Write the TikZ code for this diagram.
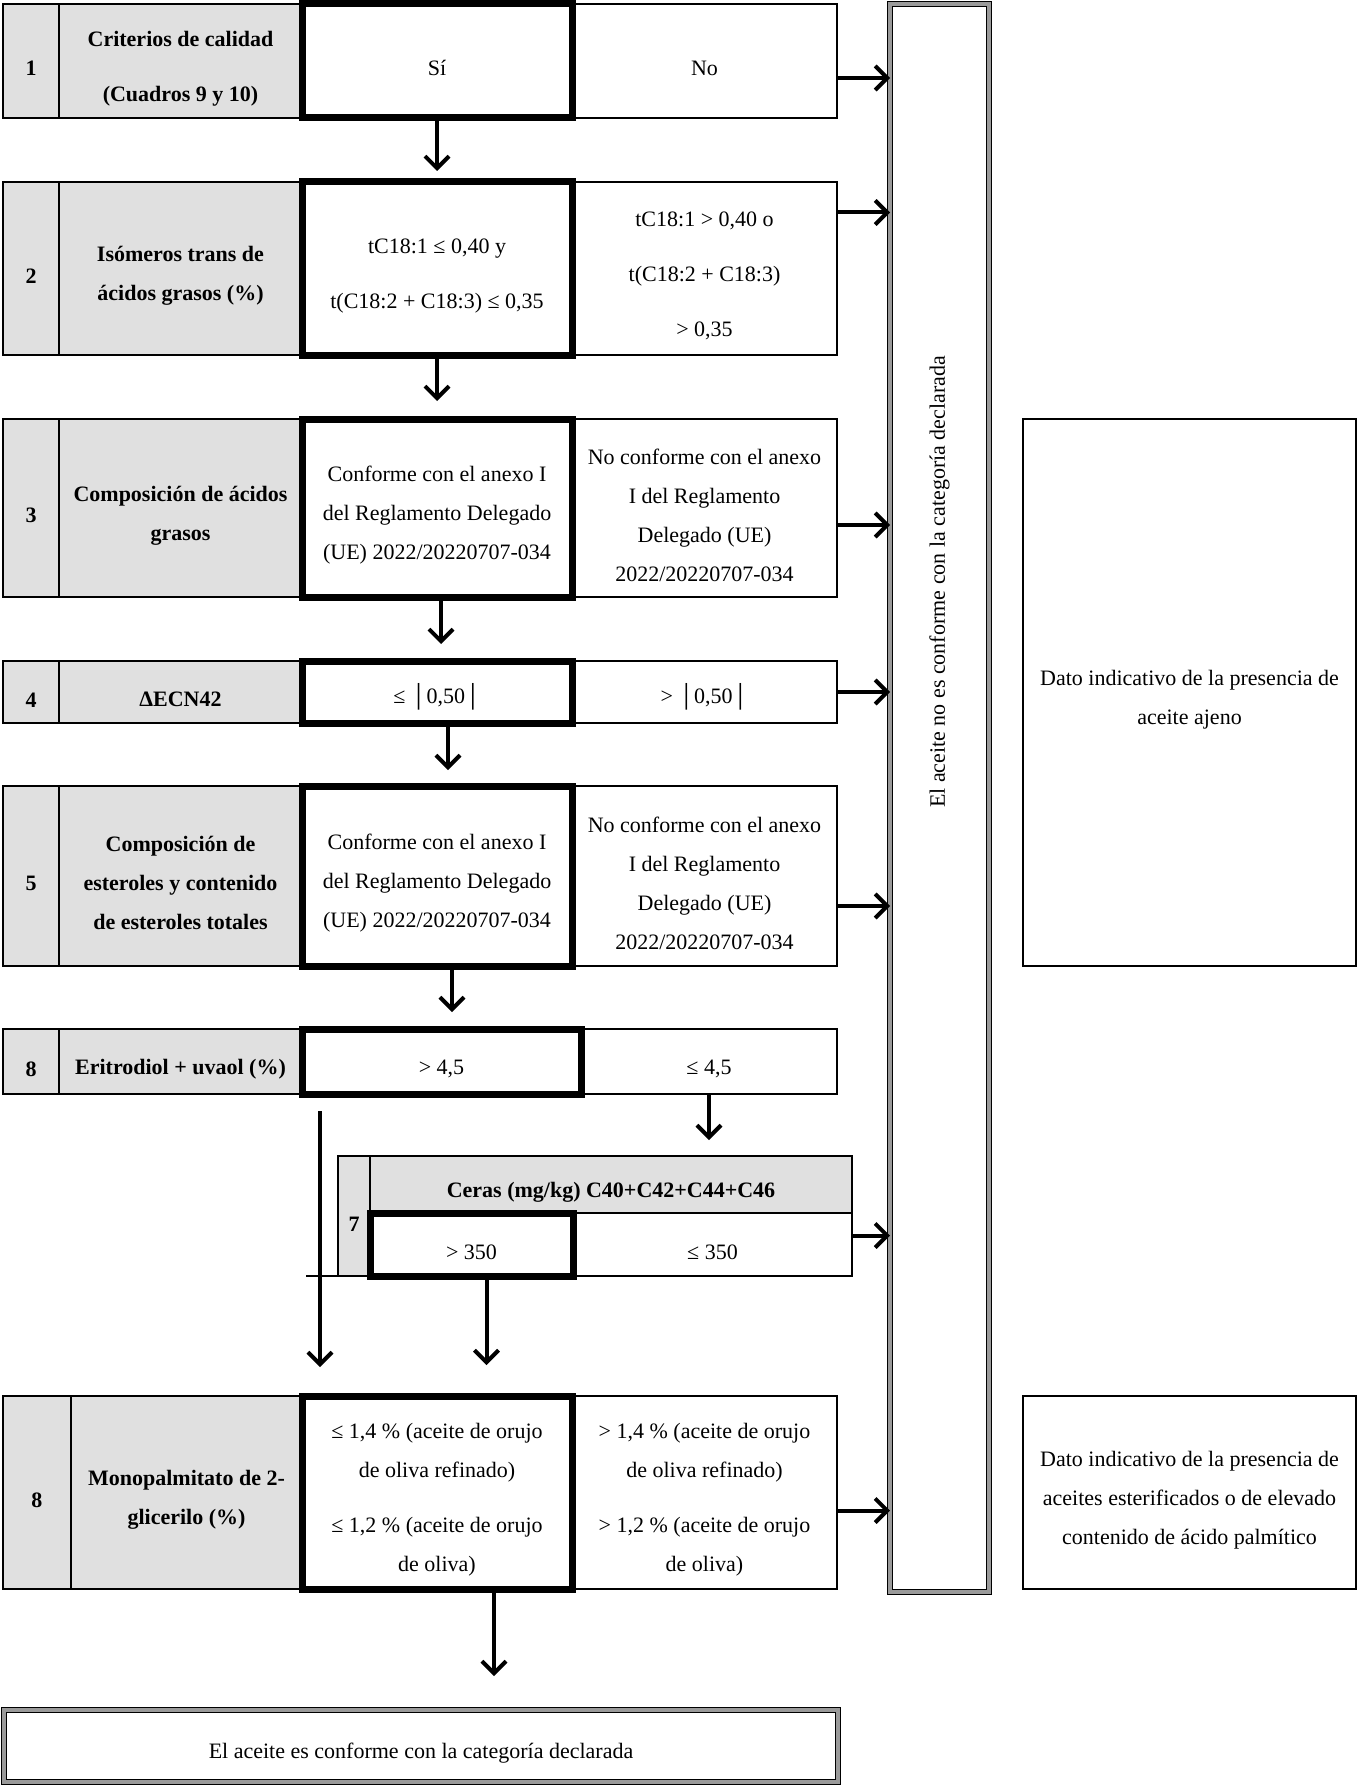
\documentclass[tikz,border=0pt]{standalone}
\usepackage{fontspec}
\setmainfont{Liberation Serif}
\usepackage{tikz}
\usetikzlibrary{arrows.meta, positioning, calc}
\definecolor{cellgrey}{HTML}{E0E0E0}
\definecolor{bordergrey}{HTML}{9A9A9A}
\newcommand{\cellstrut}{\rule{0pt}{15pt}}

\begin{document}
\begin{tikzpicture}[x=0.5pt, y=-0.5pt, node distance=0pt]
% Define styles
\tikzstyle{cell} = [rectangle, draw, line width=0.8pt, outer sep=0pt, inner sep=2pt, align=center, font=\fontsize{11}{19.5}\selectfont, execute at begin node=\cellstrut]
\tikzstyle{numcell} = [cell, fill=cellgrey, minimum width=28pt, font=\fontsize{11}{19.5}\selectfont\bfseries]
\tikzstyle{labelcell} = [numcell, minimum width=121.5pt]
\tikzstyle{yescell} = [cell, line width=3.5pt, minimum width=135pt]
\tikzstyle{nocell} = [cell, minimum width=132.5pt]
\tikzstyle{note} = [cell, minimum width=166.5pt]
\tikzstyle{verdict} = [rectangle, draw, line width=0.6pt, double=bordergrey, double distance=1.6pt, outer sep=0pt, font=\fontsize{11}{19.5}\selectfont, execute at begin node=\cellstrut]
\tikzstyle{arr} = [-{Straight Barb[length=6pt, width=12pt]}, line width=2pt]

\useasboundingbox (0,0) rectangle (1358,1787);

% Row 1
\node (num1) [numcell, minimum height=57pt, anchor=north west] at (3,4) {1};
\node (lab1) [labelcell, minimum height=57pt, right=of num1] {\cellstrut Criterios de calidad\\[8pt](Cuadros 9 y 10)};
\node (yes1) [yescell, minimum height=57pt, right=of lab1] {Sí};
\node (no1) [nocell, minimum height=57pt, right=of yes1] {No};

% Row 2
\node (num2) [numcell, minimum height=86.5pt, anchor=north west] at (3,182) {2};
\node (lab2) [labelcell, minimum height=86.5pt, right=of num2] {\cellstrut Isómeros trans de\\ácidos grasos (\%)};
\node (yes2) [yescell, minimum height=86.5pt, right=of lab2] {\cellstrut tC18:1 ≤ 0,40 y\\[8pt]t(C18:2 + C18:3) ≤ 0,35};
\node (no2) [nocell, minimum height=86.5pt, right=of yes2] {\cellstrut tC18:1 > 0,40 o\\[8pt]t(C18:2 + C18:3)\\[8pt]> 0,35};

% Row 3
\node (num3) [numcell, minimum height=89pt, anchor=north west] at (3,419) {3};
\node (lab3) [labelcell, minimum height=89pt, right=of num3] {\cellstrut Composición de ácidos\\grasos};
\node (yes3) [yescell, minimum height=89pt, right=of lab3] {\cellstrut Conforme con el anexo I\\del Reglamento Delegado\\(UE) 2022/20220707-034};
\node (no3) [nocell, minimum height=89pt, right=of yes3] {\cellstrut No conforme con el anexo\\I del Reglamento\\Delegado (UE)\\2022/20220707-034};

% Row 4
\node (num4) [numcell, minimum height=31pt, anchor=north west] at (3,661) {4};
\node (lab4) [labelcell, minimum height=31pt, right=of num4] {ΔECN42};
\node (yes4) [yescell, minimum height=31pt, right=of lab4] {≤ │0,50│};
\node (no4) [nocell, minimum height=31pt, right=of yes4] {> │0,50│};

% Row 5
\node (num5) [numcell, minimum height=90pt, anchor=north west] at (3,786) {5};
\node (lab5) [labelcell, minimum height=90pt, right=of num5] {\cellstrut Composición de\\esteroles y contenido\\de esteroles totales};
\node (yes5) [yescell, minimum height=90pt, right=of lab5] {\cellstrut Conforme con el anexo I\\del Reglamento Delegado\\(UE) 2022/20220707-034};
\node (no5) [nocell, minimum height=90pt, right=of yes5] {\cellstrut No conforme con el anexo\\I del Reglamento\\Delegado (UE)\\2022/20220707-034};

% Row 6
\node (num6) [numcell, minimum height=32.5pt, anchor=north west] at (3,1029) {8};
\node (lab6) [labelcell, minimum height=32.5pt, right=of num6] {Eritrodiol + uvaol (\%)};
\node (yes6) [yescell, minimum height=32.5pt, minimum width=139.5pt, right=of lab6] {> 4,5};
\node (no6) [nocell, minimum height=32.5pt, minimum width=128pt, right=of yes6] {≤ 4,5};

% Row 7
\node (num7) [numcell, minimum height=60pt, minimum width=16pt, anchor=north west] at (338,1156) {7};
\node (head7) [labelcell, minimum height=28.5pt, minimum width=241pt, anchor=north west] at (num7.north east) {Ceras (mg/kg) C40+C42+C44+C46};
\node (yes7) [yescell, minimum height=31.5pt, minimum width=101.5pt, anchor=north west] at (head7.south west) {> 350};
\node (no7) [nocell, minimum height=31.5pt, minimum width=139.5pt, right=of yes7] {≤ 350};

% Row 8
\node (num8) [numcell, minimum height=96.5pt, minimum width=34pt, anchor=north west] at (3,1396) {8};
\node (lab8) [labelcell, minimum height=96.5pt, minimum width=115.5pt, right=of num8] {\cellstrut Monopalmitato de 2-\\glicerilo (\%)};
\node (yes8) [yescell, minimum height=96.5pt, right=of lab8] {\cellstrut ≤ 1,4 \% (aceite de orujo\\de oliva refinado)\\[8pt]≤ 1,2 \% (aceite de orujo\\de oliva)};
\node (no8) [nocell, minimum height=96.5pt, right=of yes8] {\cellstrut > 1,4 \% (aceite de orujo\\de oliva refinado)\\[8pt]> 1,2 \% (aceite de orujo\\de oliva)};

% Outcomes
\node (notok) [verdict, minimum width=49.5pt, minimum height=794pt, anchor=north west] at (890,4) {};
\node (notoktext) [rotate=90, font=\fontsize{11}{19.5}\selectfont] at ([yshift=108pt]notok.center) {El aceite no es conforme con la categoría declarada};
\node (ok) [verdict, minimum width=417pt, minimum height=36pt, anchor=north west] at (4,1710) {El aceite es conforme con la categoría declarada};
\node (note1) [note, minimum height=273.5pt, anchor=north west] at (1023,419) {\cellstrut Dato indicativo de la presencia de\\aceite ajeno};
\node (note2) [note, minimum height=96.5pt, anchor=north west] at (1023,1396) {\cellstrut Dato indicativo de la presencia de\\aceites esterificados o de elevado\\contenido de ácido palmítico};

% Arrows down
\coordinate (d3) at ([xshift=2pt]yes3.south);
\coordinate (d4) at ([xshift=5.5pt]yes4.south);
\coordinate (d5) at ([xshift=7.5pt]yes5.south);
\coordinate (d7) at ([xshift=7.5pt]yes7.south);
\coordinate (d8) at ([xshift=28.5pt]yes8.south);
\coordinate (skip) at ([xshift=9pt, yshift=-8.5pt]yes6.south west);
\draw[arr] (yes1.south) -- ($(yes1.south |- yes2.north)+(0,5.5pt)$);
\draw[arr] (yes2.south) -- ($(yes2.south |- yes3.north)+(0,9pt)$);
\draw[arr] (d3) -- ($(d3 |- yes4.north)+(0,8.5pt)$);
\draw[arr] (d4) -- ($(d4 |- yes5.north)+(0,8pt)$);
\draw[arr] (d5) -- ($(d5 |- yes6.north)+(0,8.5pt)$);
\draw[arr] (no6.south) -- ($(no6.south |- head7.north)+(0,8pt)$);
\draw[arr] (d7) -- ($(d7 |- yes8.north)+(0,15.5pt)$);
\draw[arr] (skip) -- ($(skip |- yes8.north)+(0,14.5pt)$);
\draw[arr] (d8) -- ($(d8 |- ok.north)+(0,17pt)$);
\draw[line width=0.8pt] (num7.south west) -- ([xshift=-16pt]num7.south west);

% Arrows to the right
\coordinate (a1) at ([yshift=-8.5pt]no1.east);
\coordinate (a2) at ([yshift=28pt]no2.east);
\coordinate (a3) at ([yshift=-8.5pt]no3.east);
\coordinate (a4) at (no4.east);
\coordinate (a5) at ([yshift=-15pt]no5.east);
\coordinate (a7) at ([yshift=4.5pt]no7.east);
\coordinate (a8) at ([yshift=-9pt]no8.east);
\foreach \a in {a1,a2,a3,a4,a5,a7,a8}
  \draw[arr] (\a) -- (\a -| notok.west);

\end{tikzpicture}
\end{document}
